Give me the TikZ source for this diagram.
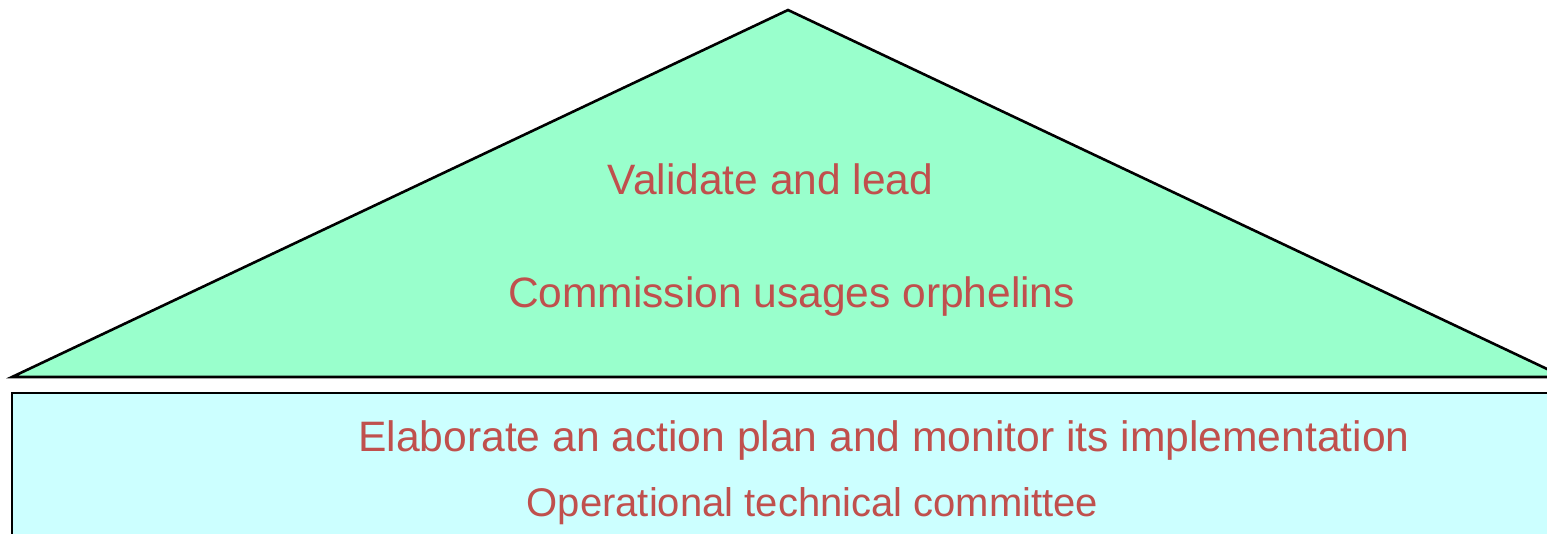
\documentclass[tikz,border=0pt]{standalone}
\usepackage{fontspec}
\setmainfont{Liberation Sans}
\definecolor{roofgreen}{HTML}{99FFCC}
\definecolor{basecyan}{HTML}{CCFFFF}
\definecolor{labelred}{HTML}{C0504D}
\tikzset{
  shapeline/.style={draw=black, line width=2.6pt, line join=miter},
  labeltop/.style={text=labelred, anchor=base, inner sep=0pt, font=\fontsize{42.5}{50}\selectfont},
  labelmain/.style={text=labelred, anchor=base, inner sep=0pt, font=\fontsize{42.6}{50}\selectfont},
  labelsub/.style={text=labelred, anchor=base, inner sep=0pt, font=\fontsize{40}{48}\selectfont}
}
\begin{document}
\begin{tikzpicture}[x=1pt,y=-1pt]
\useasboundingbox (0,0) rectangle (1547,533);
\clip (0,0) rectangle (1547,533);
\fill[white] (0,0) rectangle (1547,533);
% roof
\path[shapeline, fill=roofgreen] (12,377) -- (788,10) -- (1564,377) -- cycle;
% base block
\path[shapeline, fill=basecyan] (12,393) rectangle (1600,600);
% texts
\node[labeltop] (validate) at (770.5,194) {Validate and lead};
\node[labeltop] (commission) at (791.5,307) {Commission usages orphelins};
\node[labelmain] (elaborate) at (884,451.5) {Elaborate an action plan and monitor its implementation};
\node[labelsub] (operational) at (812.5,516) {Operational technical committee};
\end{tikzpicture}
\end{document}
